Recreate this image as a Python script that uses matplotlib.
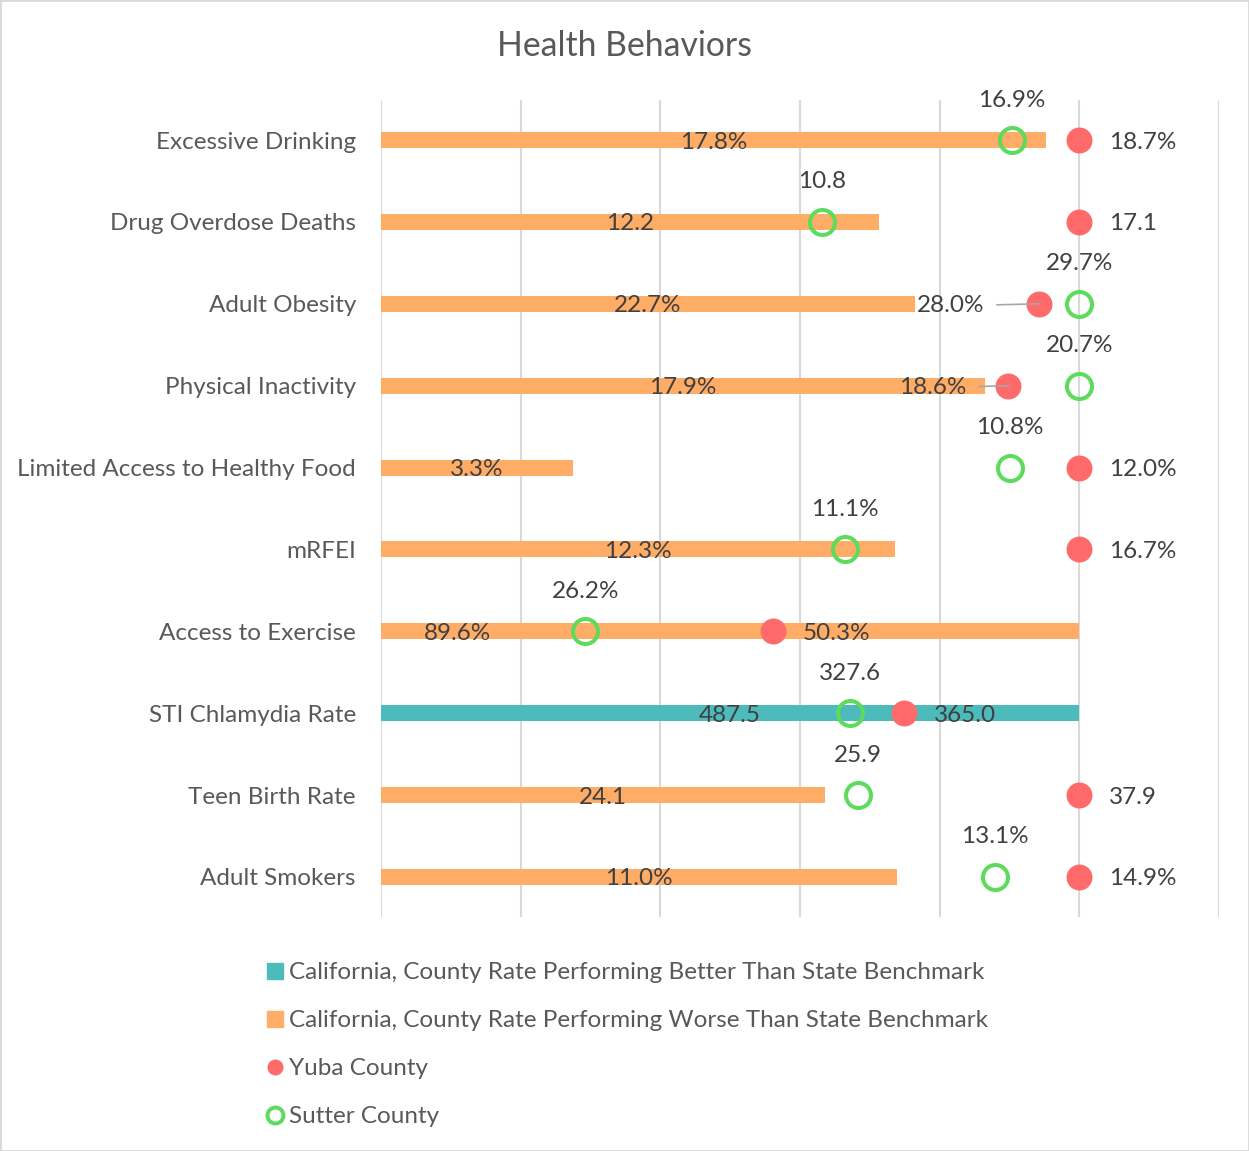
import matplotlib

matplotlib.use("Agg")

import matplotlib.pyplot as plt
from matplotlib.lines import Line2D
from matplotlib.patches import Patch, Rectangle
import numpy as np

plt.rcParams["font.family"] = ["Lato", "DejaVu Sans"]

categories = [
    "Excessive Drinking",
    "Drug Overdose Deaths",
    "Adult Obesity",
    "Physical Inactivity",
    "Limited Access to Healthy Food",
    "mRFEI",
    "Access to Exercise",
    "STI Chlamydia Rate",
    "Teen Birth Rate",
    "Adult Smokers",
]
california = [17.8, 12.2, 22.7, 17.9, 3.3, 12.3, 89.6, 487.5, 24.1, 11.0]
yuba = [18.7, 17.1, 28.0, 18.6, 12.0, 16.7, 50.3, 365.0, 37.9, 14.9]
sutter = [16.9, 10.8, 29.7, 20.7, 10.8, 11.1, 26.2, 327.6, 25.9, 13.1]
is_percent = [True, False, True, True, True, True, True, False, False, True]
better_than_state = [False, False, False, False, False, False, False, True, False, False]

# label placement tweaks (Excel moved a few labels by hand)
bar_label_frac = [0.5, 0.5, 0.5, 0.5, 0.5, 0.5, 0.11, 0.5, 0.5, 0.5]
yuba_label_dx = [30, 30, -55, -42, 30, 30, 30, 30, 30, 30]

ORANGE = "#FFAD66"
TEAL = "#4DBBBB"
RED = "#FF6B6B"
GREEN = "#5CDB5C"
GRID = "#D9D9D9"
LABEL = "#595959"
DATA = "#404040"
FS = 17.5


def fmt(v, pct):
    return f"{v:.1f}%" if pct else f"{v:.1f}"


fig = plt.figure(figsize=(12.49, 11.51), dpi=100)
ax = fig.add_axes([381 / 1249, 1 - 917 / 1151, 838 / 1249, 817 / 1151])

y = np.arange(len(categories))
scale = np.maximum.reduce([california, yuba, sutter])
cal_n = np.array(california) / scale
yuba_n = np.array(yuba) / scale
sut_n = np.array(sutter) / scale

for gx in np.arange(0, 1.21, 0.2):
    ax.axvline(gx, color=GRID, lw=1.5, zorder=0)

colors = [TEAL if b else ORANGE for b in better_than_state]
ax.barh(y, cal_n, height=0.195, color=colors, zorder=2)

ax.plot(yuba_n, y, "o", ms=18.7, color=RED, mec="none", zorder=4)
ax.plot(sut_n, y, "o", ms=18, mfc="none", mec=GREEN, mew=2.9, zorder=5)

txt = dict(textcoords="offset pixels", va="center", fontsize=FS, color=DATA, zorder=6)
for i in range(len(categories)):
    pct = is_percent[i]
    ax.annotate(fmt(california[i], pct), (cal_n[i] * bar_label_frac[i], y[i]),
                xytext=(0, -2), ha="center", **txt)
    ax.annotate(fmt(sutter[i], pct), (sut_n[i], y[i]), xytext=(0, 40),
                ha="center", **txt)
    dx = yuba_label_dx[i]
    if dx < 0:
        ax.annotate(fmt(yuba[i], pct), (yuba_n[i], y[i]), xytext=(dx, -2),
                    ha="right", **txt,
                    arrowprops=dict(arrowstyle="-", color="#A6A6A6", lw=1.2,
                                    shrinkA=7, shrinkB=0))
    else:
        ax.annotate(fmt(yuba[i], pct), (yuba_n[i], y[i]), xytext=(dx, -2),
                    ha="left", **txt)

ax.set_xlim(0, 1.2)
ax.set_ylim(len(categories) - 1 + 0.49, -0.49)
ax.set_yticks(y)
ax.set_yticklabels(categories, fontsize=FS, color=LABEL)
ax.tick_params(axis="y", length=0, pad=18)
ax.set_xticks([])
for s in ax.spines.values():
    s.set_visible(False)

fig.text(0.5, 1 - 46 / 1151, "Health Behaviors", ha="center", va="center",
         fontsize=24.3, color=LABEL)

handles = [
    Patch(color=TEAL),
    Patch(color=ORANGE),
    Line2D([], [], marker="o", ls="none", ms=11.5, color=RED, mec="none"),
    Line2D([], [], marker="o", ls="none", ms=11.5, mfc="none", mec=GREEN, mew=2.8),
]
labels = [
    "California, County Rate Performing Better Than State Benchmark",
    "California, County Rate Performing Worse Than State Benchmark",
    "Yuba County",
    "Sutter County",
]
fig.legend(handles, labels, loc="upper left", bbox_to_anchor=(255 / 1249, 1 - 950 / 1151),
           frameon=False, fontsize=FS, labelcolor=LABEL, handlelength=0.65,
           handleheight=0.65, handletextpad=0.25, labelspacing=1.115, borderpad=0)

fig.add_artist(Rectangle((0, 0), 1, 1, transform=fig.transFigure, fill=False,
                         ec=GRID, lw=2))

fig.savefig("out.png", dpi=100)
